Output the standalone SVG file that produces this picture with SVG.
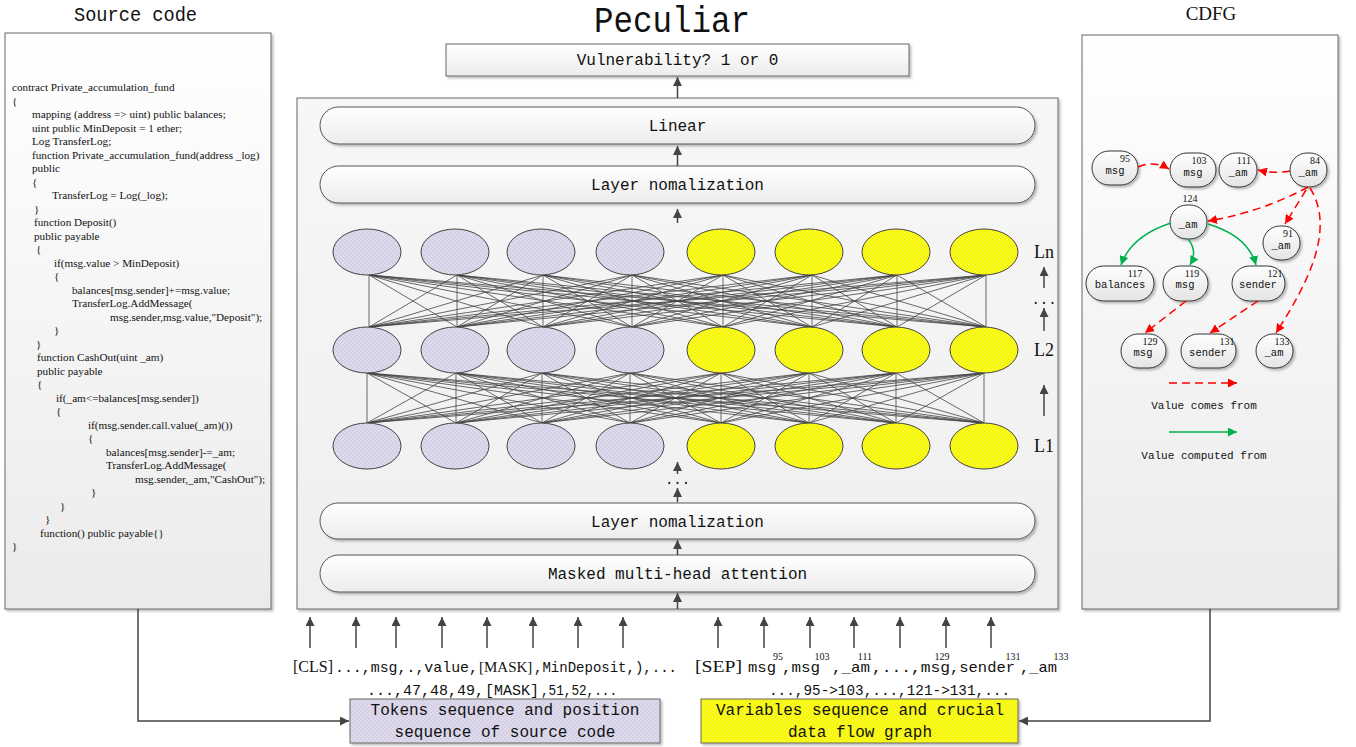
<svg xmlns="http://www.w3.org/2000/svg" width="1356" height="747" viewBox="0 0 1356 747">
<defs>
<style>
.m{font-family:"Liberation Mono","DejaVu Sans Mono",monospace;fill:#111}
.s{font-family:"Liberation Serif","DejaVu Serif",serif;fill:#111}
.code{font-family:"Liberation Serif","DejaVu Serif",serif;font-size:11.2px;fill:#111}
.panel{stroke:#666;stroke-width:1}
.pill{fill:url(#pillG);stroke:#555;stroke-width:1}
.lnk{fill:none;stroke:#444;stroke-width:1.5}
.net{fill:none;stroke:#444;stroke-width:0.8}
.lav{fill:url(#lavP);stroke:#444;stroke-width:1}
.yel{fill:url(#yelP);stroke:#444;stroke-width:1}
.nd{fill:url(#nodeG);stroke:#333;stroke-width:1}
.red{fill:none;stroke:#ff0000;stroke-width:1.5;stroke-dasharray:8 5}
.grn{fill:none;stroke:#00b050;stroke-width:1.5}
.lbl{font-family:"Liberation Mono","DejaVu Sans Mono",monospace;font-size:10.5px;fill:#111;text-anchor:middle}
.sup{font-family:"Liberation Serif","DejaVu Serif",serif;font-size:10px;fill:#111;text-anchor:middle}
</style>
<linearGradient id="panelG" x1="0" y1="0" x2="0" y2="1"><stop offset="0" stop-color="#ffffff"/><stop offset="1" stop-color="#ebebeb"/></linearGradient>
<linearGradient id="mainG" x1="0" y1="0" x2="0" y2="1"><stop offset="0" stop-color="#f7f7f7"/><stop offset="1" stop-color="#efefef"/></linearGradient>
<linearGradient id="pillG" x1="0" y1="0" x2="0" y2="1"><stop offset="0" stop-color="#ffffff"/><stop offset="1" stop-color="#ececec"/></linearGradient>
<linearGradient id="nodeG" x1="0" y1="0" x2="0" y2="1"><stop offset="0" stop-color="#ffffff"/><stop offset="1" stop-color="#e4e4e4"/></linearGradient>
<pattern id="lavP" width="4" height="4" patternUnits="userSpaceOnUse"><rect width="4" height="4" fill="#d5d0e6"/><circle cx="1" cy="1" r="0.7" fill="#fff" opacity="0.6"/><circle cx="3" cy="3" r="0.7" fill="#fff" opacity="0.6"/></pattern>
<pattern id="yelP" width="4" height="4" patternUnits="userSpaceOnUse"><rect width="4" height="4" fill="#f7f700"/><circle cx="1" cy="1" r="0.7" fill="#fff" opacity="0.5"/><circle cx="3" cy="3" r="0.7" fill="#fff" opacity="0.5"/></pattern>
<filter id="sh" x="-10%" y="-10%" width="130%" height="140%"><feDropShadow dx="2" dy="2" stdDeviation="1.2" flood-color="#000" flood-opacity="0.25"/></filter>
<marker id="ah" markerUnits="userSpaceOnUse" markerWidth="10" markerHeight="9" refX="9" refY="4.5" orient="auto"><path d="M0,0 L9,4.5 L0,9 Z" fill="#444"/></marker>
<marker id="ahr" markerUnits="userSpaceOnUse" markerWidth="10" markerHeight="9" refX="9" refY="4.5" orient="auto"><path d="M0,0 L9,4.5 L0,9 Z" fill="#ff0000"/></marker>
<marker id="ahg" markerUnits="userSpaceOnUse" markerWidth="10" markerHeight="9" refX="9" refY="4.5" orient="auto"><path d="M0,0 L9,4.5 L0,9 Z" fill="#00b050"/></marker>
</defs>
<rect width="1356" height="747" fill="#ffffff"/>

<!-- Titles -->
<text class="m" x="74" y="21" font-size="20" textLength="123" lengthAdjust="spacingAndGlyphs">Source code</text>
<text class="m" x="594" y="32" font-size="36" textLength="156" lengthAdjust="spacingAndGlyphs">Peculiar</text>
<text class="s" x="1211" y="20" font-size="19" text-anchor="middle">CDFG</text>

<!-- Source code panel -->
<g id="source-code">
<rect class="panel" x="5" y="33" width="266" height="576" fill="url(#panelG)" filter="url(#sh)"/>
<text class="code" x="12" y="91">contract Private_accumulation_fund</text>
<text class="code" x="12" y="104.5">{</text>
<text class="code" x="32" y="118">mapping (address =&gt; uint) public balances;</text>
<text class="code" x="32" y="131.5">uint public MinDeposit = 1 ether;</text>
<text class="code" x="32" y="145">Log TransferLog;</text>
<text class="code" x="32" y="158.5">function Private_accumulation_fund(address _log)</text>
<text class="code" x="32" y="172">public</text>
<text class="code" x="32" y="185.5">{</text>
<text class="code" x="52" y="199">TransferLog = Log(_log);</text>
<text class="code" x="34" y="212.5">}</text>
<text class="code" x="34" y="226">function Deposit()</text>
<text class="code" x="34" y="239.5">public payable</text>
<text class="code" x="36" y="253">{</text>
<text class="code" x="54" y="266.5">if(msg.value &gt; MinDeposit)</text>
<text class="code" x="54" y="280">{</text>
<text class="code" x="72" y="293.5">balances[msg.sender]+=msg.value;</text>
<text class="code" x="72" y="307">TransferLog.AddMessage(</text>
<text class="code" x="110" y="320.5">msg.sender,msg.value,"Deposit");</text>
<text class="code" x="54" y="334">}</text>
<text class="code" x="36" y="347.5">}</text>
<text class="code" x="37" y="361">function CashOut(uint _am)</text>
<text class="code" x="37" y="374.5">public payable</text>
<text class="code" x="37" y="388">{</text>
<text class="code" x="56" y="401.5">if(_am&lt;=balances[msg.sender])</text>
<text class="code" x="56" y="415">{</text>
<text class="code" x="88" y="428.5">if(msg.sender.call.value(_am)())</text>
<text class="code" x="88" y="442">{</text>
<text class="code" x="106" y="455.5">balances[msg.sender]-=_am;</text>
<text class="code" x="106" y="469">TransferLog.AddMessage(</text>
<text class="code" x="135" y="482.5">msg.sender,_am,"CashOut");</text>
<text class="code" x="91" y="496">}</text>
<text class="code" x="60" y="509.5">}</text>
<text class="code" x="45" y="523">}</text>
<text class="code" x="40" y="536.5">function() public payable{}</text>
<text class="code" x="12" y="550">}</text>
</g>

<!-- Output box -->
<g id="output">
<rect class="panel" x="446" y="44" width="463" height="32" fill="url(#pillG)" filter="url(#sh)"/>
<text class="m" x="677.5" y="65" font-size="16" text-anchor="middle">Vulnerability? 1 or 0</text>
</g>

<!-- Main model panel -->
<g id="model">
<rect class="panel" x="297" y="98" width="761" height="511" fill="url(#mainG)" filter="url(#sh)"/>
</g>
<g id="linear">
<rect class="pill" x="320" y="107" width="715" height="37" rx="18.5" filter="url(#sh)"/>
<text class="m" x="677.5" y="131" font-size="16" text-anchor="middle">Linear</text>
</g>
<g id="layernorm-top">
<rect class="pill" x="320" y="166" width="715" height="37" rx="18.5" filter="url(#sh)"/>
<text class="m" x="677.5" y="190" font-size="16" text-anchor="middle">Layer nomalization</text>
</g>
<g id="layernorm-bottom">
<rect class="pill" x="320" y="503" width="715" height="36" rx="18" filter="url(#sh)"/>
<text class="m" x="677.5" y="526.5" font-size="16" text-anchor="middle">Layer nomalization</text>
</g>
<g id="attention">
<rect class="pill" x="320" y="555" width="715" height="37" rx="18.5" filter="url(#sh)"/>
<text class="m" x="677.5" y="579" font-size="16" text-anchor="middle">Masked multi-head attention</text>
</g>

<!-- Network links -->
<g id="net-links">
<path class="net" d="M369 275L369 327M369 275L457 327M369 275L543 327M369 275L632 327M369 275L723 327M369 275L812 327M369 275L897 327M369 275L986 327M457 275L369 327M457 275L457 327M457 275L543 327M457 275L632 327M457 275L723 327M457 275L812 327M457 275L897 327M457 275L986 327M543 275L369 327M543 275L457 327M543 275L543 327M543 275L632 327M543 275L723 327M543 275L812 327M543 275L897 327M543 275L986 327M632 275L369 327M632 275L457 327M632 275L543 327M632 275L632 327M632 275L723 327M632 275L812 327M632 275L897 327M632 275L986 327M723 275L369 327M723 275L457 327M723 275L543 327M723 275L632 327M723 275L723 327M723 275L812 327M723 275L897 327M723 275L986 327M812 275L369 327M812 275L457 327M812 275L543 327M812 275L632 327M812 275L723 327M812 275L812 327M812 275L897 327M812 275L986 327M897 275L369 327M897 275L457 327M897 275L543 327M897 275L632 327M897 275L723 327M897 275L812 327M897 275L897 327M897 275L986 327M986 275L369 327M986 275L457 327M986 275L543 327M986 275L632 327M986 275L723 327M986 275L812 327M986 275L897 327M986 275L986 327"/>
<path class="net" d="M367 373L367 423M367 373L456 423M367 373L542 423M367 373L630 423M367 373L721 423M367 373L809 423M367 373L896 423M367 373L984 423M456 373L367 423M456 373L456 423M456 373L542 423M456 373L630 423M456 373L721 423M456 373L809 423M456 373L896 423M456 373L984 423M542 373L367 423M542 373L456 423M542 373L542 423M542 373L630 423M542 373L721 423M542 373L809 423M542 373L896 423M542 373L984 423M630 373L367 423M630 373L456 423M630 373L542 423M630 373L630 423M630 373L721 423M630 373L809 423M630 373L896 423M630 373L984 423M721 373L367 423M721 373L456 423M721 373L542 423M721 373L630 423M721 373L721 423M721 373L809 423M721 373L896 423M721 373L984 423M809 373L367 423M809 373L456 423M809 373L542 423M809 373L630 423M809 373L721 423M809 373L809 423M809 373L896 423M809 373L984 423M896 373L367 423M896 373L456 423M896 373L542 423M896 373L630 423M896 373L721 423M896 373L809 423M896 373L896 423M896 373L984 423M984 373L367 423M984 373L456 423M984 373L542 423M984 373L630 423M984 373L721 423M984 373L809 423M984 373L896 423M984 373L984 423"/>
</g>

<!-- Neurons -->
<g id="layer-n">
<ellipse class="lav" cx="367" cy="252" rx="34" ry="23"/>
<ellipse class="lav" cx="455" cy="252" rx="34" ry="23"/>
<ellipse class="lav" cx="541" cy="252" rx="34" ry="23"/>
<ellipse class="lav" cx="630" cy="252" rx="34" ry="23"/>
<ellipse class="yel" cx="721" cy="252" rx="34" ry="23"/>
<ellipse class="yel" cx="809" cy="252" rx="34" ry="23"/>
<ellipse class="yel" cx="896" cy="252" rx="34" ry="23"/>
<ellipse class="yel" cx="984" cy="252" rx="34" ry="23"/>
</g>
<g id="layer-2">
<ellipse class="lav" cx="367" cy="350" rx="34" ry="23"/>
<ellipse class="lav" cx="455" cy="350" rx="34" ry="23"/>
<ellipse class="lav" cx="541" cy="350" rx="34" ry="23"/>
<ellipse class="lav" cx="630" cy="350" rx="34" ry="23"/>
<ellipse class="yel" cx="721" cy="350" rx="34" ry="23"/>
<ellipse class="yel" cx="809" cy="350" rx="34" ry="23"/>
<ellipse class="yel" cx="896" cy="350" rx="34" ry="23"/>
<ellipse class="yel" cx="984" cy="350" rx="34" ry="23"/>
</g>
<g id="layer-1">
<ellipse class="lav" cx="367" cy="446" rx="34" ry="23"/>
<ellipse class="lav" cx="455" cy="446" rx="34" ry="23"/>
<ellipse class="lav" cx="541" cy="446" rx="34" ry="23"/>
<ellipse class="lav" cx="630" cy="446" rx="34" ry="23"/>
<ellipse class="yel" cx="721" cy="446" rx="34" ry="23"/>
<ellipse class="yel" cx="809" cy="446" rx="34" ry="23"/>
<ellipse class="yel" cx="896" cy="446" rx="34" ry="23"/>
<ellipse class="yel" cx="984" cy="446" rx="34" ry="23"/>
</g>

<!-- Layer labels -->
<g id="layer-labels">
<text class="s" x="1044" y="258" font-size="18" text-anchor="middle">Ln</text>
<text class="m" x="1044" y="304" font-size="14" text-anchor="middle">...</text>
<text class="s" x="1044" y="356" font-size="18" text-anchor="middle">L2</text>
<text class="s" x="1044" y="452" font-size="18" text-anchor="middle">L1</text>
<text class="m" x="677.5" y="484" font-size="14" text-anchor="middle">...</text>
</g>

<!-- CDFG panel -->
<g id="cdfg">
<rect class="panel" x="1082" y="35" width="256" height="574" fill="url(#panelG)" filter="url(#sh)"/>
</g>
<g id="cdfg-nodes">
<g id="n95"><rect class="nd" x="1092" y="151" width="46" height="34" rx="17" filter="url(#sh)"/><text class="lbl" x="1115" y="174">msg</text><text class="sup" x="1125" y="162">95</text></g>
<g id="n103"><rect class="nd" x="1170" y="153" width="46" height="34" rx="17" filter="url(#sh)"/><text class="lbl" x="1193" y="176">msg</text><text class="sup" x="1199" y="164">103</text></g>
<g id="n111"><rect class="nd" x="1219" y="153" width="38" height="34" rx="17" filter="url(#sh)"/><text class="lbl" x="1238" y="176">_am</text><text class="sup" x="1244" y="164">111</text></g>
<g id="n84"><rect class="nd" x="1290" y="153" width="37" height="34" rx="17" filter="url(#sh)"/><text class="lbl" x="1308" y="176">_am</text><text class="sup" x="1315" y="164">84</text></g>
<g id="n124"><rect class="nd" x="1170" y="205" width="37" height="34" rx="17" filter="url(#sh)"/><text class="lbl" x="1188" y="228">_am</text><text class="sup" x="1190" y="202">124</text></g>
<g id="n91"><rect class="nd" x="1263" y="226" width="37" height="34" rx="17" filter="url(#sh)"/><text class="lbl" x="1281" y="249">_am</text><text class="sup" x="1288" y="237">91</text></g>
<g id="n117"><rect class="nd" x="1086" y="266" width="68" height="35" rx="17.5" filter="url(#sh)"/><text class="lbl" x="1120" y="288">balances</text><text class="sup" x="1135" y="277">117</text></g>
<g id="n119"><rect class="nd" x="1163" y="266" width="45" height="35" rx="17.5" filter="url(#sh)"/><text class="lbl" x="1185" y="288">msg</text><text class="sup" x="1192" y="277">119</text></g>
<g id="n121"><rect class="nd" x="1232" y="266" width="53" height="35" rx="17.5" filter="url(#sh)"/><text class="lbl" x="1258" y="288">sender</text><text class="sup" x="1275" y="277">121</text></g>
<g id="n129"><rect class="nd" x="1121" y="334" width="45" height="34" rx="17" filter="url(#sh)"/><text class="lbl" x="1143" y="356">msg</text><text class="sup" x="1150" y="345">129</text></g>
<g id="n131"><rect class="nd" x="1181" y="334" width="55" height="34" rx="17" filter="url(#sh)"/><text class="lbl" x="1208" y="356">sender</text><text class="sup" x="1227" y="345">131</text></g>
<g id="n133"><rect class="nd" x="1256" y="334" width="37" height="34" rx="17" filter="url(#sh)"/><text class="lbl" x="1274" y="356">_am</text><text class="sup" x="1282" y="345">133</text></g>
</g>
<g id="cdfg-edges">
<path class="red" d="M1138,167 Q1154,160 1169,169" marker-end="url(#ahr)"/>
<path class="red" d="M1290,171 Q1275,174 1258,170" marker-end="url(#ahr)"/>
<path class="red" d="M1308,187 Q1262,212 1208,221" marker-end="url(#ahr)"/>
<path class="red" d="M1306,190 L1285,224" marker-end="url(#ahr)"/>
<path class="red" d="M1310,188 C1338,232 1302,292 1276,333" marker-end="url(#ahr)"/>
<path class="red" d="M1186,301 L1145,333" marker-end="url(#ahr)"/>
<path class="red" d="M1258,301 L1210,333" marker-end="url(#ahr)"/>
<path class="grn" d="M1171,223 Q1131,236 1121,265" marker-end="url(#ahg)"/>
<path class="grn" d="M1188,239 Q1198,251 1190,265" marker-end="url(#ahg)"/>
<path class="grn" d="M1208,224 Q1248,236 1256,265" marker-end="url(#ahg)"/>
</g>
<g id="cdfg-legend">
<path class="red" d="M1169,383 L1237,383" marker-end="url(#ahr)"/>
<text class="m" x="1204" y="409" font-size="11" text-anchor="middle">Value comes from</text>
<path class="grn" d="M1169,432 L1237,432" marker-end="url(#ahg)"/>
<text class="m" x="1204" y="459" font-size="11" text-anchor="middle">Value computed from</text>
</g>

<!-- Input sequences -->
<g id="token-seq">
<text class="s" x="293" y="672" font-size="16">[CLS]</text>
<text class="m" x="335" y="672" font-size="15" textLength="143" lengthAdjust="spacingAndGlyphs">...,msg,.,value,</text>
<text class="s" x="479" y="672" font-size="15">[MASK]</text>
<text class="m" x="534" y="672" font-size="15" textLength="143" lengthAdjust="spacingAndGlyphs">,MinDeposit,),...</text>
<text class="m" x="367" y="695" font-size="15">...,47,48,49,</text>
<text class="m" x="485" y="695" font-size="15">[MASK]</text>
<text class="m" x="541" y="695" font-size="15" textLength="76" lengthAdjust="spacingAndGlyphs">,51,52,...</text>
</g>
<g id="var-seq">
<text class="s" x="695" y="672" font-size="17" textLength="47" lengthAdjust="spacingAndGlyphs">[SEP]</text>
<text class="m" x="748" y="672" font-size="15" textLength="28" lengthAdjust="spacingAndGlyphs">msg</text>
<text class="m" x="782" y="672" font-size="15" textLength="38" lengthAdjust="spacingAndGlyphs">,msg</text>
<text class="m" x="832" y="672" font-size="15" textLength="38" lengthAdjust="spacingAndGlyphs">,_am</text>
<text class="m" x="872" y="672" font-size="15" textLength="78" lengthAdjust="spacingAndGlyphs">,...,msg</text>
<text class="m" x="950" y="672" font-size="15" textLength="65" lengthAdjust="spacingAndGlyphs">,sender</text>
<text class="m" x="1020" y="672" font-size="15" textLength="37" lengthAdjust="spacingAndGlyphs">,_am</text>
<text class="sup" x="778" y="660" font-size="9.5">95</text>
<text class="sup" x="822" y="660" font-size="9.5">103</text>
<text class="sup" x="865" y="660" font-size="9.5">111</text>
<text class="sup" x="942" y="660" font-size="9.5">129</text>
<text class="sup" x="1013" y="660" font-size="9.5">131</text>
<text class="sup" x="1061" y="660" font-size="9.5">133</text>
<text class="m" x="769" y="695" font-size="15" textLength="241" lengthAdjust="spacingAndGlyphs">...,95-&gt;103,...,121-&gt;131,...</text>
</g>

<!-- Input boxes -->
<g id="tokens-box">
<rect x="350" y="699" width="310" height="44" fill="url(#lavP)" stroke="#666" filter="url(#sh)"/>
<text class="m" x="505" y="715" font-size="16" text-anchor="middle">Tokens sequence and position</text>
<text class="m" x="505" y="737" font-size="16" text-anchor="middle">sequence of source code</text>
</g>
<g id="variables-box">
<rect x="701" y="699" width="317" height="44" fill="url(#yelP)" stroke="#666" filter="url(#sh)"/>
<text class="m" x="860" y="715" font-size="16" text-anchor="middle">Variables sequence and crucial</text>
<text class="m" x="860" y="737" font-size="16" text-anchor="middle">data flow graph</text>
</g>

<!-- Connectors -->
<g id="connectors">
<path class="lnk" d="M677.5,98 L677.5,77" marker-end="url(#ah)"/>
<path class="lnk" d="M677.5,166 L677.5,146" marker-end="url(#ah)"/>
<path class="lnk" d="M677.5,223 L677.5,209" marker-end="url(#ah)"/>
<path class="lnk" d="M677.5,474 L677.5,462" marker-end="url(#ah)"/>
<path class="lnk" d="M677.5,502 L677.5,488" marker-end="url(#ah)"/>
<path class="lnk" d="M677.5,555 L677.5,540" marker-end="url(#ah)"/>
<path class="lnk" d="M677.5,609 L677.5,593" marker-end="url(#ah)"/>
<path class="lnk" d="M1044,288 L1044,267" marker-end="url(#ah)"/>
<path class="lnk" d="M1044,331 L1044,308" marker-end="url(#ah)"/>
<path class="lnk" d="M1044,416 L1044,385" marker-end="url(#ah)"/>
<path class="lnk" d="M310,648 L310,617" marker-end="url(#ah)"/>
<path class="lnk" d="M356,648 L356,617" marker-end="url(#ah)"/>
<path class="lnk" d="M396,648 L396,617" marker-end="url(#ah)"/>
<path class="lnk" d="M442,648 L442,617" marker-end="url(#ah)"/>
<path class="lnk" d="M487,648 L487,617" marker-end="url(#ah)"/>
<path class="lnk" d="M533,648 L533,617" marker-end="url(#ah)"/>
<path class="lnk" d="M578,648 L578,617" marker-end="url(#ah)"/>
<path class="lnk" d="M623,648 L623,617" marker-end="url(#ah)"/>
<path class="lnk" d="M718,648 L718,617" marker-end="url(#ah)"/>
<path class="lnk" d="M764,648 L764,617" marker-end="url(#ah)"/>
<path class="lnk" d="M810,648 L810,617" marker-end="url(#ah)"/>
<path class="lnk" d="M854,648 L854,617" marker-end="url(#ah)"/>
<path class="lnk" d="M900,648 L900,617" marker-end="url(#ah)"/>
<path class="lnk" d="M946,648 L946,617" marker-end="url(#ah)"/>
<path class="lnk" d="M991,648 L991,617" marker-end="url(#ah)"/>
<path class="lnk" d="M138,609 L138,721 L349,721" marker-end="url(#ah)"/>
<path class="lnk" d="M1210,609 L1210,721 L1019,721" marker-end="url(#ah)"/>
</g>
</svg>
